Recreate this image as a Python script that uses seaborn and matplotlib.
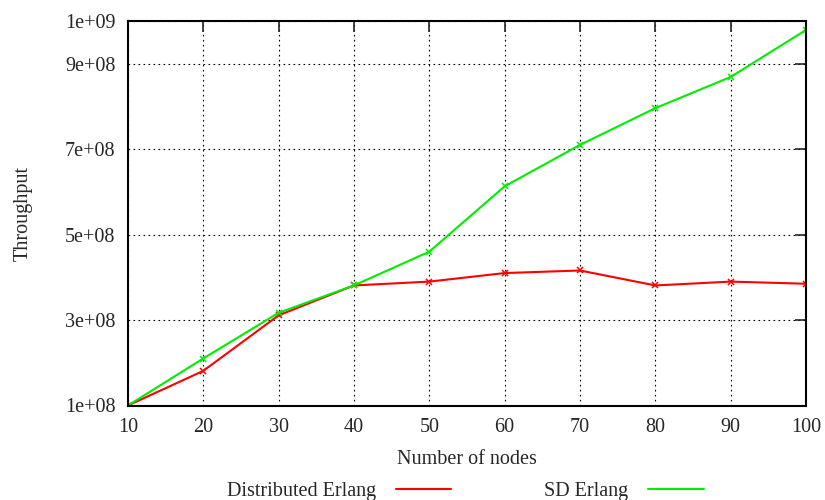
import numpy as np
import pandas as pd
import matplotlib
matplotlib.use("Agg")
import matplotlib.pyplot as plt
import seaborn as sns

# Veriler
nodes = [10, 20, 30, 40, 50, 60, 70, 80, 90, 100]
distributed_erlang = [1.0e8, 1.81e8, 3.11e8, 3.81e8, 3.90e8, 4.10e8, 4.16e8, 3.81e8, 3.90e8, 3.85e8]
sd_erlang = [1.0e8, 2.10e8, 3.17e8, 3.81e8, 4.60e8, 6.13e8, 7.10e8, 7.96e8, 8.69e8, 9.79e8]
series_names = ["Distributed Erlang", "SD Erlang"]
series_colors = ["#ff0000", "#00ee00"]
y_ticks = [1e8, 3e8, 5e8, 7e8, 9e8, 1e9]
y_tick_labels = ["1e+08", "3e+08", "5e+08", "7e+08", "9e+08", "1e+09"]
x_ticks = [10, 20, 30, 40, 50, 60, 70, 80, 90, 100]

df = pd.DataFrame({
    "nodes": nodes * 2,
    "throughput": distributed_erlang + sd_erlang,
    "series": [series_names[0]] * len(nodes) + [series_names[1]] * len(nodes),
})

sns.set_style("white")
plt.rcParams['font.family'] = ['Liberation Serif', 'DejaVu Serif']
plt.rcParams['font.size'] = 14

fig = plt.figure(figsize=(8.25, 5), dpi=100)
ax = fig.add_axes([0.155, 0.189, 0.822, 0.769])

sns.lineplot(data=df, x="nodes", y="throughput", hue="series",
             palette=dict(zip(series_names, series_colors)),
             marker="x", markersize=5, markeredgewidth=1.1, linewidth=1.5,
             ax=ax, legend=False)
# seaborn x isaretlerini beyaz cizer, renklerini duzelt
for line in ax.lines:
    line.set_markeredgecolor(line.get_color())

ax.set_xlim(10, 100)
ax.set_ylim(1e8, 1e9)
ax.set_xticks(x_ticks)
ax.set_yticks(y_ticks)
ax.set_yticklabels(y_tick_labels)

# gnuplot tarzi noktali izgara
ax.grid(True, color="black", linestyle=(0, (1.5, 3)), linewidth=0.8)
ax.tick_params(direction="in", length=8, width=1.2, top=True, right=True,
               labelsize=14.5)
ax.tick_params(axis="y", pad=9)
ax.tick_params(axis="x", pad=9)
for s in ax.spines.values():
    s.set_color("black")
    s.set_linewidth(1.5)

ax.set_xlabel("Number of nodes", fontsize=14.5, labelpad=9)
ax.set_ylabel("Throughput", fontsize=14.5, labelpad=23)

handles = [plt.Line2D([], [], color=c, linewidth=1.5) for c in series_colors]
fig.legend(handles, series_names, loc="center", bbox_to_anchor=(0.564, 0.018),
           ncol=2, frameon=False, markerfirst=False, fontsize=14.5,
           handlelength=2.75, columnspacing=4.6, handletextpad=1.0)

plt.savefig("out.png", dpi=100)
